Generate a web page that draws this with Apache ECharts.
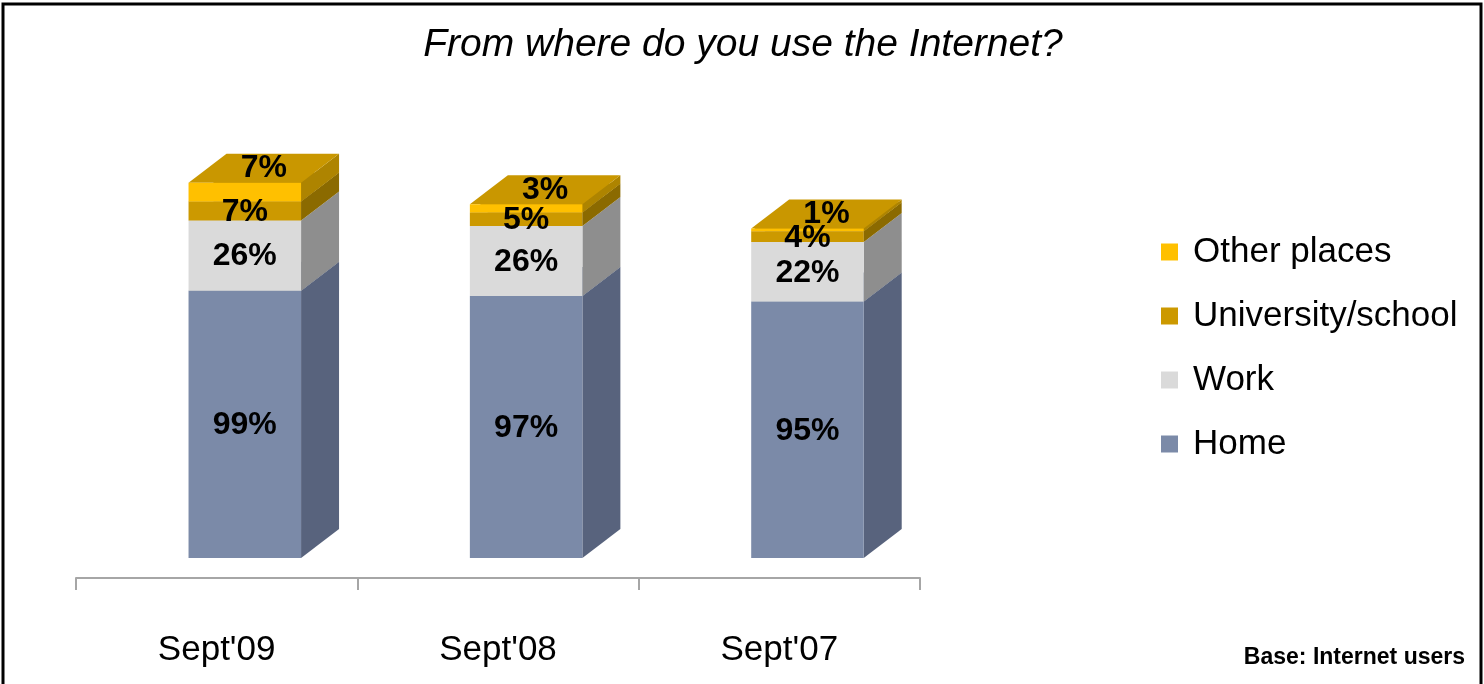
<!DOCTYPE html>
<html>
<head>
<meta charset="utf-8">
<script src="https://cdn.jsdelivr.net/npm/echarts@6/dist/echarts.min.js"></script>
<style>
  html, body { margin: 0; padding: 0; background: #fff; }
  #chart { width: 1484px; height: 684px; }
</style>
</head>
<body>
<div id="chart"></div>
<script>
// Survey periods and shares of internet users by place of use (%)
const categories = ["Sept'09", "Sept'08", "Sept'07"];
const home = [99, 97, 95];
const work = [26, 26, 22];
const university = [7, 5, 4];
const otherPlaces = [7, 3, 1];

const FONT = "'Liberation Sans', Arial, sans-serif";

// Face colours for each stacked block: front, right side, top
const palette = {
  'Home':              { front: '#7B8AA8', side: '#58637D', top: '#6A7893' },
  'Work':              { front: '#DADADA', side: '#8E8E8E', top: '#BDBDBD' },
  'University/school': { front: '#CC9900', side: '#8B6A00', top: '#B08400' },
  'Other places':      { front: '#FFC000', side: '#AE8400', top: '#C99700' }
};

const seriesDefs = [
  { name: 'Home', values: home, labelOnTop: false },
  { name: 'Work', values: work, labelOnTop: false },
  { name: 'University/school', values: university, labelOnTop: false },
  { name: 'Other places', values: otherPlaces, labelOnTop: true }
];

// Build [categoryIndex, base, value] rows for stacking
const running = categories.map(() => 0);
const seriesData = seriesDefs.map(def => def.values.map((v, i) => {
  const row = [i, running[i], v];
  running[i] += v;
  return row;
}));

function makeRenderer(name, labelOnTop) {
  const c = palette[name];
  return function (params, api) {
    const cat = api.value(0);
    const base = api.value(1);
    const val = api.value(2);
    const band = api.size([1, 0])[0];
    const pBase = api.coord([cat, base]);
    const pTop = api.coord([cat, base + val]);
    const w = band * 0.40;
    const shift = band * 0.10;
    const dx = band * 0.135;
    const dy = 29;
    const x0 = pBase[0] - w / 2 + shift;
    const x1 = x0 + w;
    const yb = pBase[1];
    const yt = pTop[1];
    const children = [
      { type: 'polygon', shape: { points: [[x1, yb], [x1 + dx, yb - dy], [x1 + dx, yt - dy], [x1, yt]] },
        style: { fill: c.side } },
      { type: 'polygon', shape: { points: [[x0, yt], [x1, yt], [x1 + dx, yt - dy], [x0 + dx, yt - dy]] },
        style: { fill: c.top } },
      { type: 'rect', shape: { x: x0, y: yt, width: w, height: yb - yt },
        style: { fill: c.front } }
    ];
    const lx = labelOnTop ? (x0 + x1) / 2 + dx / 2 : (x0 + x1) / 2;
    const ly = labelOnTop ? yt - dy / 2 : (yb + yt) / 2 + 1;
    children.push({
      type: 'text', z2: 10,
      style: {
        text: val + '%', x: lx, y: ly, align: 'center', verticalAlign: 'middle',
        fill: '#000', font: 'bold 32px ' + FONT
      }
    });
    return { type: 'group', children: children };
  };
}

const chart = echarts.init(document.getElementById('chart'), null, { renderer: 'canvas' });

chart.setOption({
  backgroundColor: '#fff',
  animation: false,
  grid: { left: 76, right: 564, top: 18, bottom: 126 },
  legend: {
    orient: 'vertical',
    left: 1161, top: 232, padding: 0,
    data: ['Other places', 'University/school', 'Work', 'Home'],
    icon: 'rect', itemWidth: 17, itemHeight: 17, itemGap: 24,
    selectedMode: false,
    textStyle: { fontFamily: FONT, fontSize: 35, color: '#000', lineHeight: 40, padding: [0, 0, 0, 10] }
  },
  xAxis: {
    type: 'category',
    data: categories,
    offset: 20,
    axisLine: { show: true, onZero: false, lineStyle: { color: '#A6A6A6', width: 2 } },
    axisTick: { show: true, length: 12, lineStyle: { color: '#A6A6A6', width: 2 } },
    axisLabel: { fontFamily: FONT, fontSize: 35, color: '#000', margin: 55 }
  },
  yAxis: { type: 'value', min: 0, max: 200, show: false, splitLine: { show: false } },
  graphic: [
    { type: 'rect', shape: { x: 3, y: 4, width: 1478, height: 690 },
      style: { fill: 'none', stroke: '#000', lineWidth: 3 }, z: 100 },
    { type: 'text', x: 743, y: 45,
      style: { text: 'From where do you use the Internet?', align: 'center', verticalAlign: 'middle',
               font: 'italic 39px ' + FONT, fill: '#000' } },
    { type: 'text', x: 1465, y: 658,
      style: { text: 'Base: Internet users', align: 'right', verticalAlign: 'middle',
               font: 'bold 23px ' + FONT, fill: '#000' } }
  ],
  series: seriesDefs.map((def, k) => ({
    type: 'custom',
    name: def.name,
    itemStyle: { color: palette[def.name].front },
    renderItem: makeRenderer(def.name, def.labelOnTop),
    encode: { x: 0, y: [1, 2] },
    data: seriesData[k]
  }))
});
</script>
</body>
</html>
